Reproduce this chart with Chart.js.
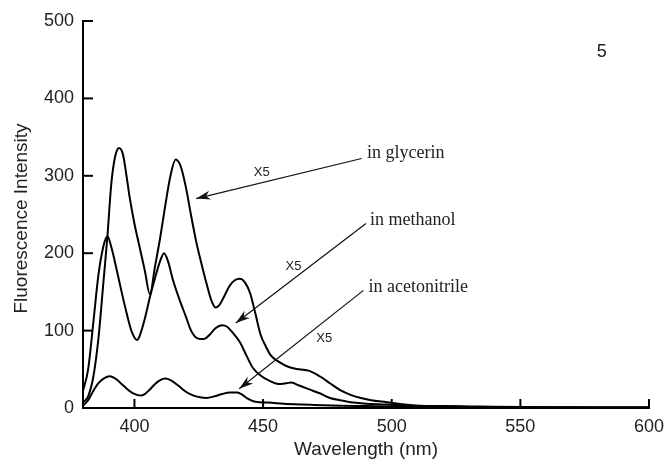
<!DOCTYPE html>
<html>
<head>
<meta charset="utf-8">
<script src="https://cdn.jsdelivr.net/npm/chart.js@4.4.1/dist/chart.umd.min.js"></script>
<style>
  body { margin: 0; background: #fff; }
  canvas { display: block; }
</style>
</head>
<body>
<canvas id="spectra" width="666" height="462"></canvas>
<script>
// values (wavelength in nm, intensity in a.u.)
const glycerinX = [380, 382, 384, 386, 388, 389.5, 391, 392.5, 394, 395.5, 397, 398, 400, 402, 404, 406, 408, 410, 412, 414, 416, 418, 420, 422, 424, 426, 428, 430, 431.5, 433, 435, 437, 439, 441, 443, 445, 447, 449, 451, 453, 456, 460, 464, 468, 472, 476, 480, 484, 488, 492, 498, 505, 511, 520, 530, 540, 560, 580, 600];
const glycerinY = [7, 15, 40, 90, 165, 222, 290, 325, 336, 328, 298, 275, 238, 208, 178, 147, 183, 220, 262, 300, 321, 312, 285, 249, 215, 187, 161, 138, 130, 133, 145, 158, 165, 167, 162, 148, 122, 95, 80, 68, 60, 53, 50, 48, 41, 32, 23, 17, 13, 10, 7.5, 4.5, 3, 2.5, 2, 1.5, 1, 0.8, 0.5];

const methanolX = [380, 382, 384, 386, 388, 389.5, 391, 393, 395, 397, 399, 401, 402, 404, 406, 408, 410, 411.5, 413, 415, 417.5, 420, 422, 424.5, 427, 429, 431.5, 434, 436, 438, 441, 443.5, 446, 449, 452, 456, 459, 461, 464, 468, 472, 476, 480, 485, 490, 498, 505, 512, 520, 540, 560, 600];
const methanolY = [22, 50, 110, 172, 210, 222, 208, 180, 150, 122, 98, 88, 93, 115, 143, 168, 190, 200, 190, 165, 140, 118, 100, 90, 89, 94, 103, 107, 105, 98, 85, 68, 52, 42, 36, 31, 32, 33, 29, 24, 19, 13, 10, 7, 5.5, 4.5, 3, 2, 1.5, 1, 0.8, 0.5];

const acetoX = [380, 382, 384, 386, 388, 390.5, 393, 395, 397, 399, 401, 402.5, 404, 406, 408, 410, 412, 414, 417, 420, 423, 426, 428, 431, 434, 437, 440, 442, 444, 447, 452, 458, 465, 470, 480, 490, 500, 520, 550, 600];
const acetoY = [3, 10, 22, 32, 38, 41, 37, 31, 25, 20, 17, 16, 18, 24, 31, 36, 38, 36, 29, 21, 16, 13.5, 13, 15, 18, 20, 20, 17, 12, 8, 7, 5.5, 4.5, 4, 3, 2.5, 2, 1.5, 1, 0.5];

const xTicks = [400, 450, 500, 550, 600];
const yTicks = [0, 100, 200, 300, 400, 500];

const sans = '"Liberation Sans", Arial, sans-serif';
const serif = '"Liberation Serif", "Times New Roman", serif';
const ink = '#222';

function pairs(xs, ys) {
  return xs.map((x, i) => ({ x: x, y: ys[i] }));
}

function curve(label, xs, ys) {
  return {
    label: label,
    data: pairs(xs, ys),
    borderColor: '#000',
    borderWidth: 2,
    pointRadius: 0,
    fill: false,
    cubicInterpolationMode: 'monotone'
  };
}

// arrows, labels, inward tick marks and the rotated y title
const overlay = {
  id: 'overlay',
  afterDraw(chart, args, opts) {
    const { ctx, scales: { x, y } } = chart;
    const px = v => x.getPixelForValue(v);
    const py = v => y.getPixelForValue(v);
    ctx.save();

    ctx.strokeStyle = '#000';
    ctx.lineWidth = 2;
    xTicks.forEach(v => {
      ctx.beginPath();
      ctx.moveTo(px(v), y.bottom);
      ctx.lineTo(px(v), y.bottom - 9);
      ctx.stroke();
    });
    yTicks.forEach(v => {
      ctx.beginPath();
      ctx.moveTo(x.left, py(v));
      ctx.lineTo(x.left + 10, py(v));
      ctx.stroke();
    });

    opts.notes.forEach(n => {
      const x1 = px(n.from[0]), y1 = py(n.from[1]);
      const x2 = px(n.tip[0]), y2 = py(n.tip[1]);
      const a = Math.atan2(y1 - y2, x1 - x2);
      ctx.strokeStyle = '#111';
      ctx.lineWidth = 1.2;
      ctx.beginPath();
      ctx.moveTo(x1, y1);
      ctx.lineTo(x2, y2);
      ctx.stroke();
      // barbed head
      const len = 15, spread = 0.3, notch = 10;
      ctx.fillStyle = '#111';
      ctx.beginPath();
      ctx.moveTo(x2, y2);
      ctx.lineTo(x2 + len * Math.cos(a + spread), y2 + len * Math.sin(a + spread));
      ctx.lineTo(x2 + notch * Math.cos(a), y2 + notch * Math.sin(a));
      ctx.lineTo(x2 + len * Math.cos(a - spread), y2 + len * Math.sin(a - spread));
      ctx.closePath();
      ctx.fill();

      ctx.fillStyle = ink;
      ctx.font = '18px ' + serif;
      ctx.textAlign = 'left';
      ctx.textBaseline = 'middle';
      ctx.fillText(n.text, px(n.at[0]), py(n.at[1]));

      ctx.font = '13px ' + sans;
      ctx.textAlign = 'center';
      ctx.fillText('X5', px(n.x5[0]), py(n.x5[1]));
    });

    ctx.fillStyle = ink;
    ctx.font = '18px ' + sans;
    ctx.textAlign = 'center';
    ctx.textBaseline = 'middle';
    ctx.fillText(opts.panel.text, px(opts.panel.at[0]), py(opts.panel.at[1]));

    ctx.font = '19px ' + sans;
    ctx.translate(22, (y.top + y.bottom) / 2 + 4);
    ctx.rotate(-Math.PI / 2);
    ctx.fillText('Fluorescence Intensity', 0, 0);
    ctx.restore();
  }
};

new Chart(document.getElementById('spectra'), {
  type: 'line',
  data: {
    datasets: [
      curve('in glycerin', glycerinX, glycerinY),
      curve('in methanol', methanolX, methanolY),
      curve('in acetonitrile', acetoX, acetoY)
    ]
  },
  options: {
    responsive: false,
    animation: false,
    layout: { padding: { top: 21, right: 17, bottom: 0, left: 0 } },
    plugins: {
      legend: { display: false },
      tooltip: { enabled: false },
      overlay: {
        panel: { text: '5', at: [581.6, 459.7] },
        notes: [
          { text: 'in glycerin', at: [490.4, 329], from: [488.3, 322.4], tip: [424.0, 270.6], x5: [449.5, 303.8] },
          { text: 'in methanol', at: [491.6, 242.6], from: [490.0, 238.3], tip: [439.4, 109.7], x5: [461.8, 183.4] },
          { text: 'in acetonitrile', at: [491.0, 155.9], from: [489.0, 152], tip: [440.7, 24.8], x5: [473.8, 90.3] }
        ]
      }
    },
    scales: {
      x: {
        type: 'linear',
        min: 380,
        max: 600,
        afterBuildTicks: s => { s.ticks = xTicks.map(v => ({ value: v })); },
        afterFit: s => { s.height = 54; s.paddingLeft = 0; s.paddingRight = 0; },
        grid: { display: false, drawTicks: false },
        border: { display: true, color: '#000', width: 2 },
        ticks: { color: ink, font: { family: sans, size: 18 }, padding: 8, maxRotation: 0 },
        title: { display: true, text: 'Wavelength (nm)', color: ink, font: { family: sans, size: 19 }, padding: { top: 0, bottom: 1 } }
      },
      y: {
        min: 0,
        max: 500,
        afterBuildTicks: s => { s.ticks = yTicks.map(v => ({ value: v })); },
        afterFit: s => { s.width = 83; s.paddingTop = 0; s.paddingBottom = 0; },
        grid: { display: false, drawTicks: false },
        border: { display: true, color: '#000', width: 2 },
        ticks: { color: ink, font: { family: sans, size: 18 }, padding: 9 }
      }
    }
  },
  plugins: [overlay]
});
</script>
</body>
</html>
